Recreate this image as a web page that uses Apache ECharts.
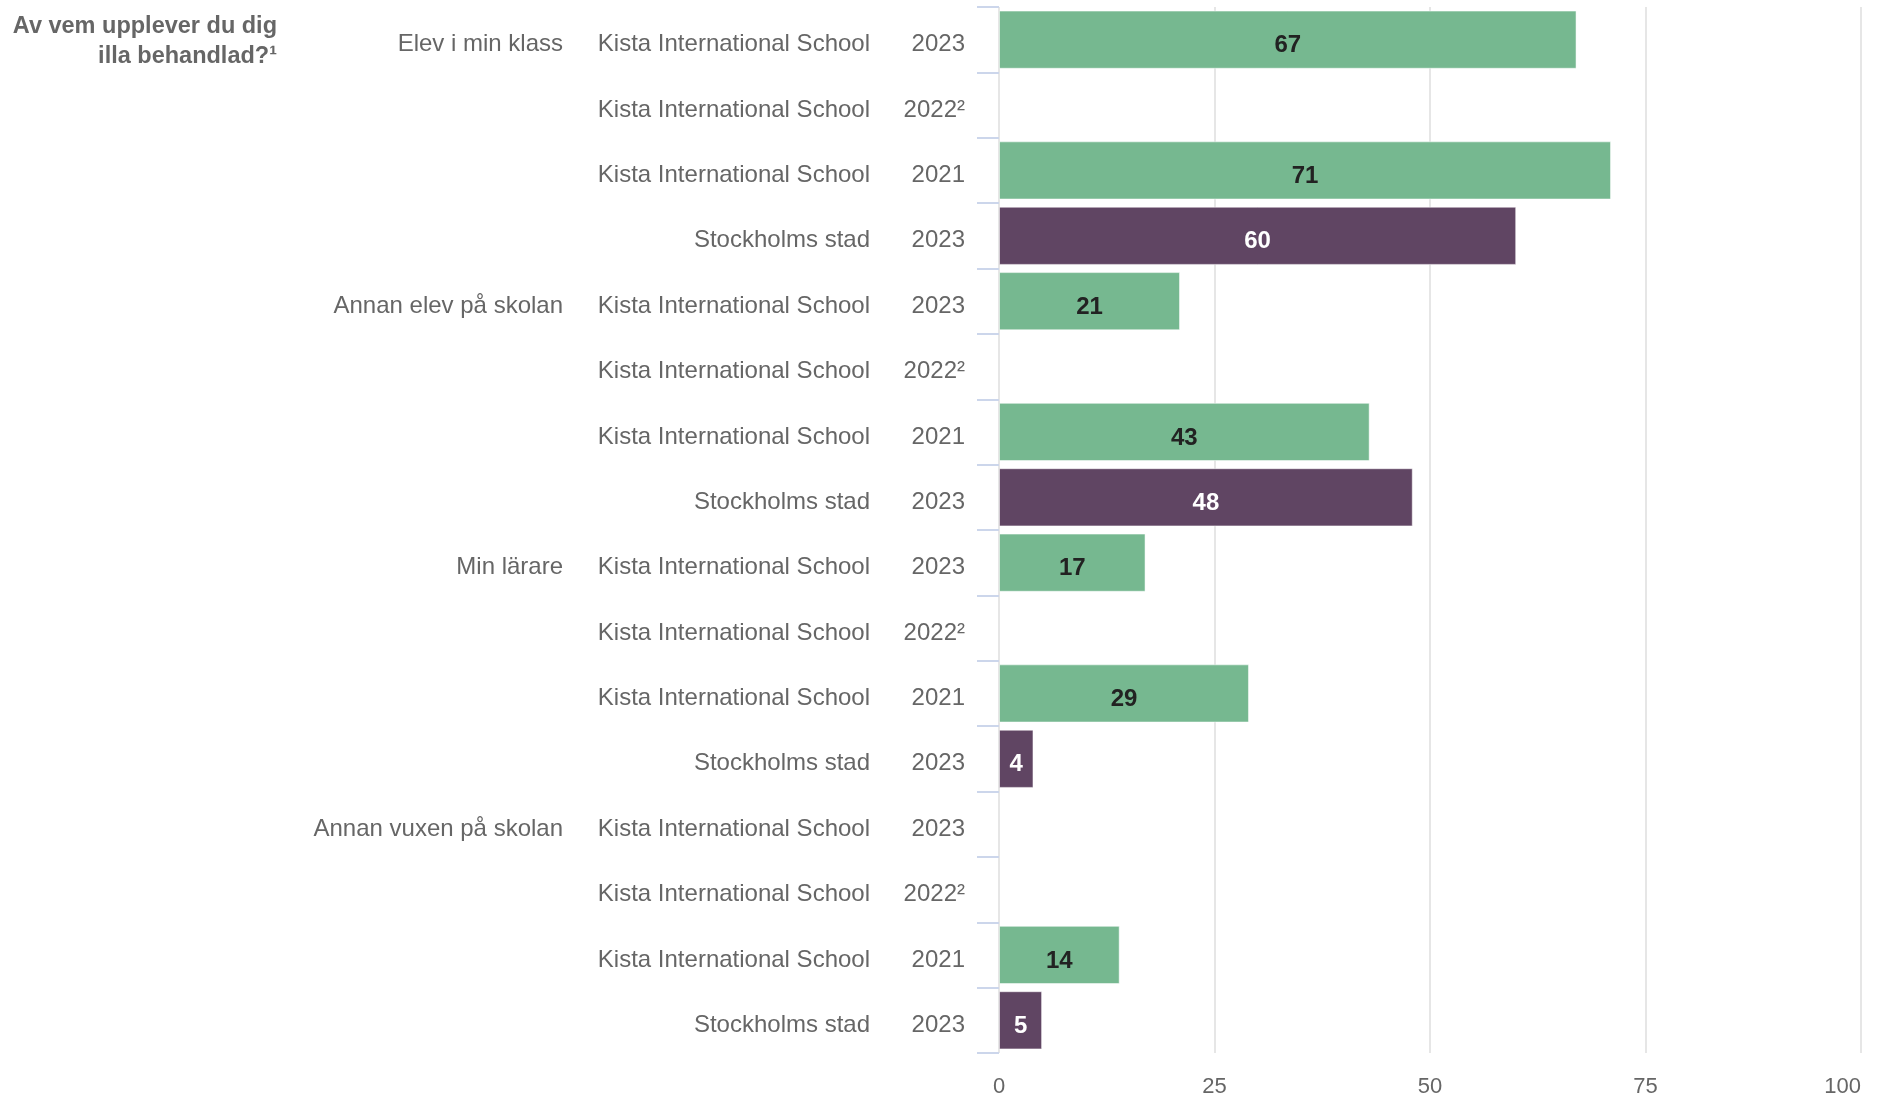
<!DOCTYPE html>
<html>
<head>
<meta charset="utf-8">
<script src="https://cdn.jsdelivr.net/npm/echarts@6/dist/echarts.min.js"></script>
<style>
  html, body { margin: 0; padding: 0; background: #fff; }
  #chart { width: 1877px; height: 1098px; }
</style>
</head>
<body>
<div id="chart"></div>
<script>
// rader uppifrån och ner
var groupLabels = ['Elev i min klass', '', '', '',
  'Annan elev på skolan', '', '', '',
  'Min lärare', '', '', '',
  'Annan vuxen på skolan', '', '', ''];
var schoolLabels = [
  'Kista International School', 'Kista International School', 'Kista International School', 'Stockholms stad',
  'Kista International School', 'Kista International School', 'Kista International School', 'Stockholms stad',
  'Kista International School', 'Kista International School', 'Kista International School', 'Stockholms stad',
  'Kista International School', 'Kista International School', 'Kista International School', 'Stockholms stad'];
var yearLabels = ['2023', '2022²', '2021', '2023',
  '2023', '2022²', '2021', '2023',
  '2023', '2022²', '2021', '2023',
  '2023', '2022²', '2021', '2023'];
var values = [67, null, 71, 60, 21, null, 43, 48, 17, null, 29, 4, null, null, 14, 5];
var xTicks = [0, 25, 50, 75, 100];

var GREEN = '#76b890';
var PURPLE = '#604563';
var FONT = '"Liberation Sans", Arial, sans-serif';

var rowIds = values.map(function (v, i) { return String(i); });

var barData = values.map(function (v, i) {
  var city = schoolLabels[i] === 'Stockholms stad';
  return {
    value: v,
    itemStyle: { color: city ? PURPLE : GREEN },
    label: { color: city ? '#ffffff' : '#222222' }
  };
});

function labelAxis(arr, offset, showTicks) {
  return {
    type: 'category',
    inverse: true,
    position: 'left',
    offset: offset,
    data: rowIds,
    axisLine: { show: false },
    axisTick: { show: showTicks, length: 22, lineStyle: { color: '#ccd6eb', width: 2 } },
    axisLabel: {
      margin: 34,
      formatter: function (val) {
        return arr[+val] ? '{t|' + arr[+val] + '}' : '';
      },
      rich: {
        t: {
          color: '#666666',
          fontSize: 24,
          fontFamily: FONT,
          padding: [10, 0, 0, 0]
        }
      }
    },
    splitLine: { show: false }
  };
}

var chart = echarts.init(document.getElementById('chart'), null, { renderer: 'canvas' });
chart.setOption({
  backgroundColor: '#ffffff',
  animation: false,
  grid: { left: 999, right: 16, top: 7, bottom: 41, containLabel: false },
  graphic: [{
    type: 'text',
    x: 277,
    y: 12,
    style: {
      text: 'Av vem upplever du dig\nilla behandlad?¹',
      align: 'right',
      verticalAlign: 'top',
      fill: '#666666',
      font: 'bold 23.5px ' + FONT,
      lineHeight: 30
    }
  }],
  xAxis: {
    type: 'value',
    min: xTicks[0],
    max: xTicks[xTicks.length - 1],
    interval: 25,
    axisLine: { show: false },
    axisTick: { show: false },
    axisLabel: {
      margin: 23,
      color: '#666666',
      fontSize: 22,
      fontFamily: FONT,
      alignMaxLabel: 'right'
    },
    splitLine: { show: true, lineStyle: { color: '#e6e6e6', width: 2 } }
  },
  yAxis: [
    labelAxis(yearLabels, 0, true),
    labelAxis(schoolLabels, 95, false),
    labelAxis(groupLabels, 402, false)
  ],
  series: [{
    type: 'bar',
    yAxisIndex: 0,
    data: barData,
    barCategoryGap: '11%',
    itemStyle: { borderColor: 'rgba(255,255,255,0.5)', borderWidth: 1 },
    label: {
      show: true,
      position: 'inside',
      offset: [0, 6],
      fontSize: 24,
      fontWeight: 'bold',
      fontFamily: FONT
    }
  }]
});
</script>
</body>
</html>
